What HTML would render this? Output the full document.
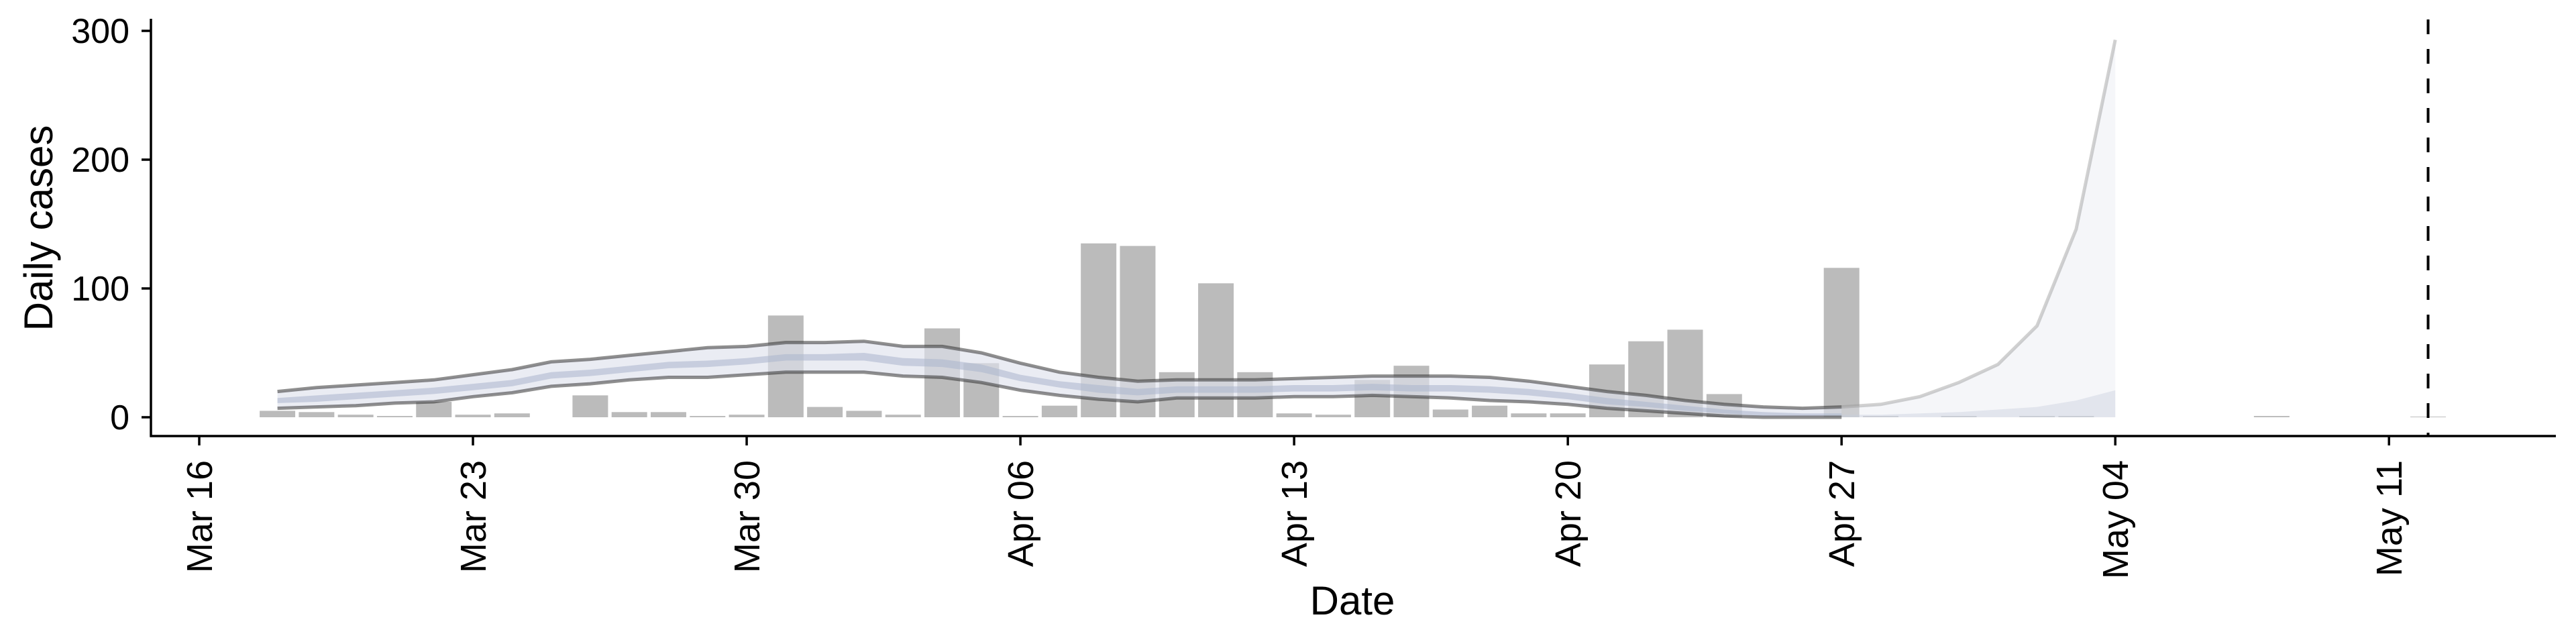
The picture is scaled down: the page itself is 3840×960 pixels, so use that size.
<!DOCTYPE html>
<html><head><meta charset="utf-8"><style>
html,body{margin:0;padding:0;background:#fff;}
svg{display:block;font-family:"Liberation Sans",sans-serif;}
</style></head><body>
<svg id="chart" width="3840" height="960" viewBox="0 0 3840 960">
<g id="bars"></g>
<g id="bands"></g>
<g id="axes"></g>
</svg>
<script>
// ---- data ----
const barStartDay = 2; // Mar 18 (day 0 = Mar 16)
const barValues = [5,4,2,1,12,2,3,0,17,4,4,1,2,79,8,5,2,69,42,1,9,135,133,35,104,35,3,2,29,40,6,9,3,3,41,59,68,18,0,0,116,1,0,1,0,1,1,0,0,0,0,1,0,0,0,0.5];
const estStartDay = 2;
const estUpper = [20,23,25,27,29,33,37,43,45,48,51,54,55,58,58,59,55,55,50,42,35,31,28,29,29,29,30,31,32,32,32,31,28,24,20,17,13,10,8,7,8];
const estLower = [7,8,9,11,12,16,19,24,26,29,31,31,33,35,35,35,32,31,27,21,17,14,12,15,15,15,16,16,17,16,15,13,12,10,7,5,3,1,0,0,0];
const estInnerHi = [15,17,19,21,23,26,29,35,37,40,43,44,46,49,49,50,46,45,41,33,28,25,22,24,24,24,25,25,26,25,25,24,22,19,15,12,9,6,4,3,3];
const estInnerLo = [11,12,14,16,18,21,24,30,32,35,38,39,41,44,44,44,40,39,35,28,23,19,17,19,19,19,20,20,21,20,20,19,17,14,10,8,5,3,1,1,1];
const fcStartDay = 42; // Apr 27
const fcUpper = [8,10,16,27,41,71,146,293];
const fcInnerHi = [2,2,3,4,6,8,13,21];
const fcLower = [0,0,0,0,0,0,0,0];
const xTickDays = [0,7,14,21,28,35,42,49,56];
const xTickLabels = ["Mar 16","Mar 23","Mar 30","Apr 06","Apr 13","Apr 20","Apr 27","May 04","May 11"];
const yTicks = [0,100,200,300];
const cutoffDay = 57;

// ---- scales ----
const X0 = 297, PXD = 58.29;
const Y0 = 622, PXU = 1.92;
const x = d => X0 + d*PXD;
const y = v => Y0 - v*PXU;
const NS = "http://www.w3.org/2000/svg";
function mk(tag, parent, attrs){const e=document.createElementNS(NS,tag);for(const k in attrs)e.setAttribute(k,attrs[k]);parent.appendChild(e);return e;}

const gb = document.getElementById('bars');
barValues.forEach((v,i)=>{
  const d = barStartDay+i;
  const r = mk('rect', gb, {x:x(d)-26.5, y:y(v), width:53, height:Math.max(0,v*PXU), fill:'#bbbbbb'});
  
  
});

function areaPath(start, hi, lo){
  let p='';
  hi.forEach((v,i)=>{p+=(i?'L':'M')+x(start+i).toFixed(1)+','+y(v).toFixed(1);});
  for(let i=lo.length-1;i>=0;i--){p+='L'+x(start+i).toFixed(1)+','+y(lo[i]).toFixed(1);}
  return p+'Z';
}
function linePath(start, arr){
  return arr.map((v,i)=>(i?'L':'M')+x(start+i).toFixed(1)+','+y(v).toFixed(1)).join('');
}
const gd = document.getElementById('bands');
const fo = mk('path', gd, {d:areaPath(fcStartDay,fcUpper,fcLower), fill:'#e6e8f0', 'fill-opacity':0.4});


const fi = mk('path', gd, {d:areaPath(fcStartDay,fcInnerHi,fcLower), fill:'#c5cddb', 'fill-opacity':0.4});


const fu = mk('path', gd, {d:linePath(fcStartDay,fcUpper), fill:'none', stroke:'#999', 'stroke-opacity':0.45, 'stroke-width':5});


const eo = mk('path', gd, {d:areaPath(estStartDay,estUpper,estLower), fill:'#dfe2ec', 'fill-opacity':0.65});


const ei = mk('path', gd, {d:areaPath(estStartDay,estInnerHi,estInnerLo), fill:'#a9b5cc', 'fill-opacity':0.55});


const eu = mk('path', gd, {d:linePath(estStartDay,estUpper), fill:'none', stroke:'#333', 'stroke-opacity':0.55, 'stroke-width':5});


const el = mk('path', gd, {d:linePath(estStartDay,estLower), fill:'none', stroke:'#333', 'stroke-opacity':0.55, 'stroke-width':5});



const ga = document.getElementById('axes');
const cut = mk('line', ga, {x1:x(cutoffDay), x2:x(cutoffDay), y1:29, y2:650, stroke:'#000', 'stroke-width':4, 'stroke-dasharray':'22,22'});


const ya = mk('line', ga, {x1:225, x2:225, y1:28, y2:651.5, stroke:'#000', 'stroke-width':3.5});


const xa = mk('line', ga, {x1:223.5, x2:3810, y1:650, y2:650, stroke:'#000', 'stroke-width':3.5});


yTicks.forEach(v=>{
  const t = mk('line', ga, {x1:211, x2:225, y1:y(v), y2:y(v), stroke:'#000', 'stroke-width':3.5});
  
  
  const l = mk('text', ga, {x:193, y:y(v)+18, 'text-anchor':'end', 'font-size':52, fill:'#000'});
  l.textContent = v;
  
  
});
xTickDays.forEach((d,i)=>{
  const t = mk('line', ga, {x1:x(d), x2:x(d), y1:650, y2:664, stroke:'#000', 'stroke-width':3.5});
  
  
  const l = mk('text', ga, {x:0, y:0, 'text-anchor':'end', 'font-size':54, fill:'#000', transform:`translate(${x(d)+19},686) rotate(-90)`});
  l.textContent = xTickLabels[i];
  
  
});
const yt = mk('text', ga, {x:0, y:0, 'text-anchor':'middle', 'font-size':60, fill:'#000', transform:'translate(78,340) rotate(-90)'});
yt.textContent = 'Daily cases';


const xt = mk('text', ga, {x:2016, y:916, 'text-anchor':'middle', 'font-size':60, fill:'#000'});
xt.textContent = 'Date';


</script>
</body></html>
